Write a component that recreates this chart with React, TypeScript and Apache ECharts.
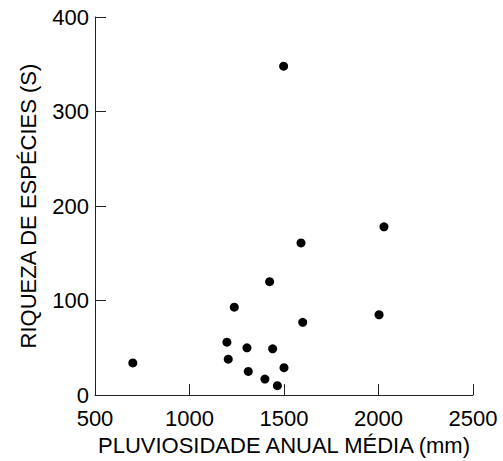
import React, { useEffect, useRef } from "react";
import * as echarts from "echarts";

const rainfall = [700, 1198, 1205, 1237, 1304, 1311, 1399, 1424, 1440, 1465, 1498, 1500, 1590, 1599, 2003, 2029];
const richness = [34, 56, 38, 93, 50, 25, 17, 120, 49, 10, 348, 29, 161, 77, 85, 178];
const xTitle = "PLUVIOSIDADE ANUAL MÉDIA (mm)";
const yTitle = "RIQUEZA DE ESPÉCIES (S)";

export default function App() {
  const ref = useRef<HTMLDivElement>(null);
  useEffect(() => {
    const chart = echarts.init(ref.current!, null, { renderer: "svg" });
    const font = "Liberation Sans, Arial, sans-serif";
    const axisColor = "#222";
    chart.setOption({
      animation: false,
      grid: { left: 95, right: 30, top: 17, bottom: 62, containLabel: false },
      xAxis: {
        type: "value",
        min: 500,
        max: 2500,
        interval: 500,
        name: xTitle,
        nameLocation: "middle",
        nameGap: 35,
        nameTextStyle: { fontFamily: font, fontSize: 22, color: "#000" },
        axisLine: { show: true, onZero: false, lineStyle: { color: axisColor, width: 1 } },
        axisTick: { show: true, inside: true, length: 11, lineStyle: { color: axisColor } },
        axisLabel: { fontFamily: font, fontSize: 22, color: "#000", margin: 12, formatter: (v: number) => String(v) },
        splitLine: { show: false },
      },
      yAxis: {
        type: "value",
        min: 0,
        max: 400,
        interval: 100,
        name: yTitle,
        nameLocation: "middle",
        nameGap: 56,
        nameRotate: 90,
        nameTextStyle: { fontFamily: font, fontSize: 22, color: "#000" },
        axisLine: { show: true, onZero: false, lineStyle: { color: axisColor, width: 1 } },
        axisTick: { show: true, inside: true, length: 11, lineStyle: { color: axisColor } },
        axisLabel: { fontFamily: font, fontSize: 22, color: "#000", margin: 6, formatter: (v: number) => String(v) },
        splitLine: { show: false },
      },
      series: [
        {
          type: "scatter",
          data: rainfall.map((x, i) => [x, richness[i]]),
          symbol: "circle",
          symbolSize: 9,
          itemStyle: { color: "#000", opacity: 1 },
        },
      ],
    });
    return () => chart.dispose();
  }, []);
  return <div ref={ref} style={{ width: 503, height: 461, position: "absolute", left: 0, top: 0 }} />;
}
